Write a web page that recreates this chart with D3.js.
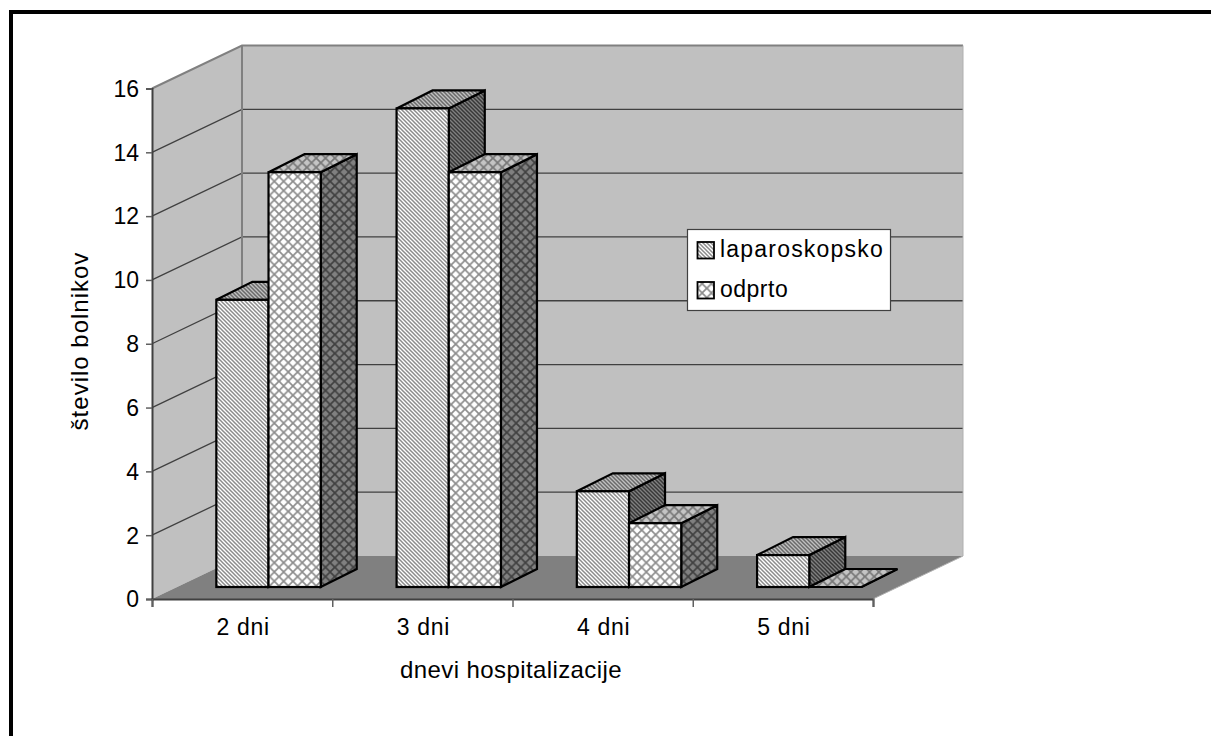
<!DOCTYPE html>
<html><head><meta charset="utf-8">
<style>html,body{margin:0;padding:0;background:#fff}svg{display:block}text{font-family:"Liberation Sans",Arial,sans-serif;fill:#000}</style>
<script src="https://cdn.jsdelivr.net/npm/d3@7/dist/d3.min.js"></script></head>
<body><svg id="c" width="1211" height="736"></svg>
<script>
const categories = ["2 dni","3 dni","4 dni","5 dni"];
const seriesNames = ["laparoskopsko","odprto"];
const laparoskopsko = [9,15,3,1];
const odprto = [13,13,2,0];
const yTickValues = [0,2,4,6,8,10,12,14,16];
const xAxisTitle = "dnevi hospitalizacije";
const yAxisTitle = "število bolnikov";

const svg = d3.select("#c");
const defs = svg.append("defs");
const FS = 23;

// scales
const x0 = d3.scaleBand().domain(categories).range([152,873]);
const xEdge = d3.scaleLinear().domain([0,categories.length]).range([152,873]);
const groupW = 104.4;
const x1 = d3.scaleBand().domain(seriesNames).range([0,groupW]);
const groupPad = (x0.bandwidth()-groupW)/2 + 1.4;
const y = d3.scaleLinear().domain([0,16]).range([599,88.5]);
const wall = {dx:90, dy:-43};         // full depth of the 3D box
const floorDx = 25, floorDy = -12;    // front plane of the bars
const dDx = 36, dDy = -18;            // depth of the bars

// patterns
function diag(id,bg,fg){
  const p=defs.append("pattern").attr("id",id).attr("patternUnits","userSpaceOnUse").attr("width",4).attr("height",4);
  p.append("rect").attr("width",4).attr("height",4).attr("fill",bg);
  p.append("path").attr("d","M-1,-1L5,5M-1,3L1,5M3,-1L5,1").attr("stroke",fg).attr("stroke-width",1.5).attr("fill","none");
}
function cross(id,bg,fg){
  const p=defs.append("pattern").attr("id",id).attr("patternUnits","userSpaceOnUse").attr("width",9.3).attr("height",9.3);
  p.append("rect").attr("width",9.3).attr("height",9.3).attr("fill",bg);
  p.append("path").attr("d","M0,0L9.3,9.3M9.3,0L0,9.3").attr("stroke",fg).attr("stroke-width",1.7).attr("fill","none");
}
diag("lf","#fff","#8c8c8c"); diag("lt","#c0c0c0","#6a6a6a"); diag("ls","#808080","#383838");
cross("of","#fff","#8c8c8c"); cross("ot","#c4c4c4","#777"); cross("os","#808080","#404040");

const pts = a => a.map(p=>p.join(",")).join(" ");
const [x00,x01]=x0.range(), y0=y(0), y16=y(16);

// walls and floor
svg.append("polygon").attr("points",pts([[x00,y16],[x00+wall.dx,y16+wall.dy],[x00+wall.dx,y0+wall.dy],[x00,y0]])).attr("fill","#c0c0c0");
svg.append("rect").attr("x",x00+wall.dx).attr("y",y16+wall.dy).attr("width",x01-x00).attr("height",y0-y16).attr("fill","#c0c0c0");
svg.append("polygon").attr("points",pts([[x00,y0],[x01,y0],[x01+wall.dx,y0+wall.dy],[x00+wall.dx,y0+wall.dy]])).attr("fill","#808080");

// gridlines
const g = svg.append("g");
yTickValues.slice(1,-1).forEach(v=>{
  g.append("polyline").attr("points",pts([[x00,y(v)],[x00+wall.dx,y(v)+wall.dy],[x01+wall.dx,y(v)+wall.dy]]))
   .attr("fill","none").attr("stroke","#404040").attr("stroke-width",1.3);
});
// wall edges
svg.append("polyline").attr("points",pts([[x00,y16],[x00+wall.dx,y16+wall.dy],[x01+wall.dx,y16+wall.dy]])).attr("fill","none").attr("stroke","#808080").attr("stroke-width",2);
svg.append("line").attr("x1",x00+wall.dx).attr("x2",x00+wall.dx).attr("y1",y16+wall.dy).attr("y2",y0+wall.dy).attr("stroke","#808080").attr("stroke-width",2);
svg.append("polyline").attr("points",pts([[x01,y0],[x01+wall.dx,y0+wall.dy],[x01+wall.dx,y16+wall.dy]])).attr("fill","none").attr("stroke","#b0b0b0").attr("stroke-width",1);

// axes
const yAxis = svg.append("g").attr("transform",`translate(${x00},0)`)
  .call(d3.axisLeft(y).tickValues(yTickValues).tickSize(6).tickPadding(7));
yAxis.selectAll(".domain").attr("stroke","#404040").attr("stroke-width",2);
yAxis.selectAll(".tick line").attr("stroke","#606060").attr("stroke-width",1.5);
yAxis.selectAll("text").style("font-size",FS+"px").style("font-family",'"Liberation Sans"').attr("fill","#000").attr("dy","0.34em");

const xMarks = svg.append("g").attr("transform",`translate(0,${y0})`)
  .call(d3.axisBottom(xEdge).tickValues(d3.range(categories.length+1)).tickFormat("").tickSize(8));
xMarks.selectAll(".domain").attr("stroke","#404040").attr("stroke-width",2);
xMarks.selectAll(".tick line").attr("stroke","#606060").attr("stroke-width",1.5);
const xLabels = svg.append("g").attr("transform",`translate(1,${y0})`)
  .call(d3.axisBottom(x0).tickSize(0).tickPadding(20));
xLabels.select(".domain").remove();
xLabels.selectAll("text").style("font-size",FS+"px").style("font-family",'"Liberation Sans"').attr("fill","#000").style("letter-spacing","0.7px");

// bars
const data = {laparoskopsko, odprto};
const bars = svg.append("g").attr("stroke","#000").attr("stroke-width",2.2).attr("stroke-linejoin","miter");
categories.forEach((c,i)=>{
  seriesNames.forEach(s=>{
    const v=data[s][i], k=s==="laparoskopsko"?"l":"o";
    const xl=x0(c)+groupPad+x1(s)+floorDx, xr=xl+x1.bandwidth();
    const yb=y(0)+floorDy, yt=y(v)+floorDy;
    bars.append("polygon").attr("points",pts([[xr,yt],[xr+dDx,yt+dDy],[xr+dDx,yb+dDy],[xr,yb]])).attr("fill",`url(#${k}s)`);
    bars.append("polygon").attr("points",pts([[xl,yt],[xl+dDx,yt+dDy],[xr+dDx,yt+dDy],[xr,yt]])).attr("fill",`url(#${k}t)`);
    bars.append("rect").attr("x",xl).attr("y",yt).attr("width",xr-xl).attr("height",yb-yt).attr("fill",`url(#${k}f)`);
  });
});

// titles
svg.append("text").attr("x",511).attr("y",678).attr("text-anchor","middle").style("font-size","24px").style("letter-spacing","0.4px").text(xAxisTitle);
svg.append("text").attr("transform","translate(88,341) rotate(-90)").attr("text-anchor","middle").style("font-size","24px").style("letter-spacing","1px").text(yAxisTitle);

// legend
const leg = svg.append("g");
leg.append("rect").attr("x",687.5).attr("y",229.5).attr("width",203).attr("height",81).attr("fill","#fff").attr("stroke","#404040").attr("stroke-width",1.2);
seriesNames.forEach((s,i)=>{
  const yy=242+i*40;
  leg.append("rect").attr("x",697.5).attr("y",yy).attr("width",16.5).attr("height",16.5).attr("fill",`url(#${i?"o":"l"}f)`).attr("stroke","#000").attr("stroke-width",1.8);
  leg.append("text").attr("x",720).attr("y",yy+15).style("font-size",FS+"px").style("letter-spacing",i?"0.5px":"1.2px").text(s);
});

// outer frame
svg.append("path").attr("d","M11,736V12H1211").attr("fill","none").attr("stroke","#000").attr("stroke-width",4);
</script></body></html>
